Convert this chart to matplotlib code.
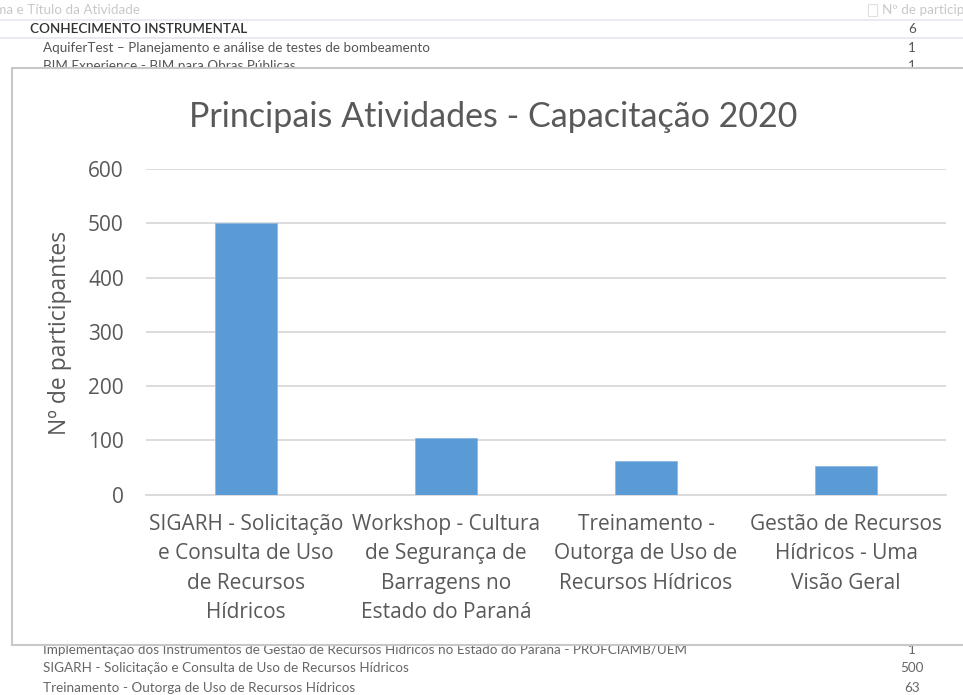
#!/usr/bin/env python

import matplotlib.pyplot as plt
from matplotlib.patches import Rectangle

# chart data
categories = [
    'SIGARH - Solicitação\ne Consulta de Uso\nde Recursos\nHídricos',
    'Workshop - Cultura\nde Segurança de\nBarragens no\nEstado do Paraná',
    'Treinamento -\nOutorga de Uso de\nRecursos Hídricos',
    'Gestão de Recursos\nHídricos - Uma\nVisão Geral',
]
participants = [500, 104, 63, 53]
y_ticks = [0, 100, 200, 300, 400, 500, 600]

# table rows peeking out behind the chart
table_top_rows = [
    ('CONHECIMENTO INSTRUMENTAL', '6'),
    ('AquiferTest – Planejamento e análise de testes de bombeamento', '1'),
    ('BIM Experience - BIM para Obras Públicas', '1'),
]
table_bottom_rows = [
    ('Implementação dos Instrumentos de Gestão de Recursos Hídricos no Estado do Paraná - PROFCIAMB/UEM', '1'),
    ('SIGARH - Solicitação e Consulta de Uso de Recursos Hídricos', '500'),
    ('Treinamento - Outorga de Uso de Recursos Hídricos', '63'),
]

W, H = 963, 695
text_gray = '#595959'
bar_color = '#5B9BD5'
grid_color = '#D9D9D9'


def fx(px):
    return px / W


def fy(py):
    return 1 - py / H


def main():
    fig = plt.figure(figsize=(W / 100, H / 100), dpi=100)
    fig.patch.set_facecolor('white')

    # background table
    tfont = 'Lato'
    tsize = 9.7
    fig.text(fx(-20), fy(10), 'Tema e Título da Atividade', fontsize=tsize, family=tfont,
             color='#C8C8C8', va='center', zorder=1)
    fig.text(fx(882), fy(10), 'Nº de participantes', fontsize=tsize, family=tfont,
             color='#C8C8C8', va='center', zorder=1)
    fig.patches.append(Rectangle((fx(868), fy(16)), fx(9), 12 / H, transform=fig.transFigure,
                                 facecolor='white', edgecolor='#E0E0E0', lw=0.8, zorder=1))
    for py in [20, 38]:
        fig.add_artist(plt.Line2D([0, 1], [fy(py), fy(py)], color='#E4E8EE', lw=1.2, zorder=1))

    row_y = [29, 48, 66]
    for (label, value), py in zip(table_top_rows, row_y):
        bold = label.isupper()
        fig.text(fx(30 if bold else 43), fy(py), label, fontsize=tsize, family=tfont,
                 color='#333333' if bold else '#555555',
                 weight='semibold' if bold else 'normal', va='center', zorder=1)
        fig.text(fx(912), fy(py), value, fontsize=tsize, family=tfont, color='#555555',
                 ha='center', va='center', zorder=1)

    row_y = [650, 668, 688]
    for (label, value), py in zip(table_bottom_rows, row_y):
        fig.text(fx(43), fy(py), label, fontsize=tsize, family=tfont, color='#666666',
                 va='center', zorder=1)
        fig.text(fx(912), fy(py), value, fontsize=tsize, family=tfont, color='#666666',
                 ha='center', va='center', zorder=1)

    # chart panel covering the table
    fig.patches.append(Rectangle((fx(12), fy(645)), fx(970), (645 - 68) / H,
                                 transform=fig.transFigure, facecolor='white',
                                 edgecolor='#C8C8C8', lw=1.5, zorder=2))

    ax = fig.add_axes([fx(146), fy(494.7), fx(946) - fx(146), (494.7 - 169) / H], zorder=3)
    ax.patch.set_alpha(0)

    x = range(len(categories))
    ax.bar(x, participants, width=0.31, color=bar_color, edgecolor='#8DB8E2',
           linewidth=0.6, zorder=3)

    ax.set_xlim(-0.5, len(categories) - 0.5)
    ax.set_ylim(0, 600)
    ax.set_yticks(y_ticks)
    ax.set_xticks(list(x))
    ax.set_xticklabels(categories, fontsize=15, family='Open Sans', color=text_gray,
                       linespacing=1.52)
    for lbl in ax.get_yticklabels():
        lbl.set_fontsize(15)
        lbl.set_family('Open Sans')
        lbl.set_color(text_gray)
    ax.tick_params(axis='both', length=0)
    ax.tick_params(axis='y', pad=16)
    ax.tick_params(axis='x', pad=14)

    ax.grid(axis='y', color=grid_color, lw=1.3, zorder=0)
    for side in ['top', 'right', 'left']:
        ax.spines[side].set_visible(False)
    ax.spines['bottom'].set_color(grid_color)
    ax.spines['bottom'].set_linewidth(1.3)

    fig.text(fx(60), fy(333), 'Nº de participantes', rotation=90, fontsize=16.5,
             family='Open Sans', color=text_gray, ha='center', va='center', zorder=4)
    fig.text(fx(493), fy(117), 'Principais Atividades - Capacitação 2020', fontsize=24.5,
             family='Lato', color=text_gray, ha='center', va='center', zorder=4)

    fig.savefig('out.png', dpi=100)


if __name__ == '__main__':
    main()
